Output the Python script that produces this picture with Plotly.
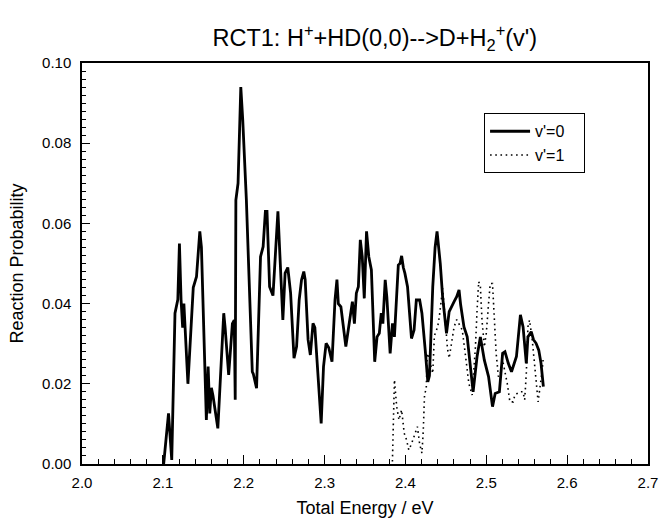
import plotly.graph_objects as go

# v'=0 (solid)
e_v0 = [2.101, 2.107, 2.111, 2.115, 2.1185, 2.1205, 2.1225, 2.1245, 2.126, 2.131,
        2.1376, 2.1416, 2.1457, 2.1477, 2.1538, 2.156, 2.158, 2.160, 2.162, 2.168,
        2.1753, 2.177, 2.1814, 2.186, 2.1883, 2.1895, 2.1903, 2.193, 2.1964, 2.1988,
        2.2033, 2.2106, 2.2118, 2.2159, 2.2208, 2.224, 2.2268, 2.2288, 2.232, 2.2362,
        2.2423, 2.245, 2.2484, 2.2512, 2.2545, 2.258, 2.2622, 2.2654, 2.2686, 2.2715,
        2.2743, 2.2760, 2.2796, 2.2824, 2.2857, 2.2880, 2.2918, 2.2958, 2.2987, 2.3019,
        2.3052, 2.3092, 2.3129, 2.3153, 2.3170, 2.3202, 2.3263, 2.3324, 2.3344, 2.3369,
        2.3393, 2.3418, 2.3442, 2.3466, 2.3491, 2.3519, 2.3547, 2.3579, 2.362, 2.3649,
        2.3677, 2.3701, 2.3721, 2.375, 2.3770, 2.3811, 2.384, 2.3864, 2.3912, 2.3933,
        2.3953, 2.3974, 2.3993, 2.4026, 2.4075, 2.4107, 2.4135, 2.4176, 2.4204, 2.4245,
        2.4277, 2.4297, 2.4338, 2.4367, 2.4391, 2.4431, 2.446, 2.4508, 2.4541, 2.4602,
        2.4634, 2.4663, 2.4683, 2.4724, 2.4764, 2.4837, 2.4886, 2.4927, 2.4976, 2.5028,
        2.5077, 2.511, 2.5162, 2.5202, 2.5231, 2.5272, 2.5312, 2.5373, 2.5422, 2.5455,
        2.5495, 2.5515, 2.5556, 2.5584, 2.5616, 2.5649, 2.5677, 2.5706]
p_v0 = [0.000, 0.0126, 0.001, 0.0376, 0.041, 0.055, 0.041, 0.034, 0.040, 0.020,
        0.044, 0.0467, 0.058, 0.054, 0.011, 0.0243, 0.0126, 0.019, 0.017, 0.0089,
        0.0376, 0.034, 0.0222, 0.035, 0.0359, 0.016, 0.0658, 0.070, 0.094, 0.0858,
        0.0658, 0.023, 0.0225, 0.0189, 0.0517, 0.0542, 0.063, 0.063, 0.0442, 0.042,
        0.063, 0.051, 0.0359, 0.0476, 0.049, 0.0426, 0.0264, 0.0293, 0.0409, 0.0459,
        0.048, 0.046, 0.031, 0.0272, 0.0351, 0.034, 0.021, 0.0101, 0.0243, 0.0301,
        0.029, 0.0255, 0.0409, 0.046, 0.040, 0.0392, 0.0293, 0.0384, 0.0405, 0.035,
        0.0426, 0.0442, 0.0559, 0.0517, 0.0413, 0.058, 0.0517, 0.0484, 0.0255, 0.0317,
        0.0326, 0.0376, 0.035, 0.0459, 0.0417, 0.0276, 0.0351, 0.0317, 0.0496, 0.050,
        0.0519, 0.049, 0.0476, 0.0442, 0.0313, 0.0334, 0.0409, 0.0409, 0.0376, 0.0284,
        0.0205, 0.022, 0.0442, 0.054, 0.058, 0.050, 0.0417, 0.0326, 0.038, 0.0405,
        0.0417, 0.0434, 0.0397, 0.0342, 0.0317, 0.018, 0.0268, 0.0317, 0.0259, 0.0218,
        0.0143, 0.0176, 0.018, 0.0276, 0.028, 0.0251, 0.023, 0.0268, 0.0372, 0.0342,
        0.0251, 0.0317, 0.033, 0.031, 0.0301, 0.0284, 0.0251, 0.0193]

# v'=1 (dotted)
e_v1 = [2.3839, 2.3852, 2.3864, 2.3892, 2.392, 2.3953, 2.3985, 2.4014, 2.4042, 2.4075,
        2.4115, 2.4148, 2.4176, 2.4204, 2.422, 2.4237, 2.4257, 2.427, 2.4298, 2.4338,
        2.4358, 2.4399, 2.4419, 2.446, 2.448, 2.45, 2.452, 2.4541, 2.4569, 2.4602,
        2.4634, 2.4703, 2.4743, 2.4784, 2.4825, 2.4866, 2.4886, 2.4906, 2.4927, 2.4947,
        2.4976, 2.5, 2.5028, 2.5049, 2.5077, 2.5101, 2.5122, 2.515, 2.518, 2.5202,
        2.5259, 2.5292, 2.5333, 2.5353, 2.5414, 2.5454, 2.5475, 2.5495, 2.5515, 2.5535,
        2.5568, 2.5596, 2.5625, 2.5641, 2.5665, 2.5690, 2.5706]
p_v1 = [0.0006, 0.0126, 0.021, 0.0143, 0.011, 0.0135, 0.0077, 0.006, 0.0035, 0.005,
        0.0077, 0.0093, 0.005, 0.0027, 0.008, 0.0176, 0.0185, 0.0276, 0.026, 0.0226,
        0.032, 0.0342, 0.0367, 0.0438, 0.039, 0.0342, 0.0288, 0.0264, 0.030, 0.0342,
        0.036, 0.0334, 0.027, 0.0201, 0.0172, 0.0293, 0.0384, 0.0455, 0.0442, 0.0359,
        0.0292, 0.0326, 0.040, 0.045, 0.045, 0.0359, 0.0276, 0.0218, 0.023, 0.0259,
        0.0201, 0.0155, 0.0155, 0.0172, 0.018, 0.018, 0.016, 0.0226, 0.0342, 0.0359,
        0.031, 0.0251, 0.0193, 0.0155, 0.0193, 0.023, 0.0268]

series_names = ["v'=0", "v'=1"]

FONT = "Liberation Sans, Arial, Helvetica, sans-serif"
PAD = "\u00a0\u00a0\u00a0"

fig = go.Figure()
fig.add_trace(go.Scatter(x=e_v0, y=p_v0, mode="lines", name=series_names[0] + PAD,
                         line=dict(color="black", width=2.8)))
fig.add_trace(go.Scatter(x=e_v1, y=p_v1, mode="lines", name=series_names[1] + PAD,
                         line=dict(color="black", width=1.6, dash="1.6px,3.6px")))

fig.update_layout(
    width=670, height=527,
    margin=dict(l=82, r=13, t=63, b=63),
    paper_bgcolor="white", plot_bgcolor="white",
    font=dict(family=FONT, color="black", size=15),
    title=dict(text="RCT1: H<sup>+</sup>+HD(0,0)--&gt;D+H<sub>2</sub><sup>+</sup>(v')",
               x=0.5 + 10 / 575, xref="paper", xanchor="center",
               y=1 - 38 / 527, yanchor="middle",
               font=dict(size=23.5, family=FONT, color="black")),
    showlegend=True,
    legend=dict(x=0.71, y=0.875, xanchor="left", yanchor="top",
                bordercolor="black", borderwidth=1.2, bgcolor="white",
                font=dict(size=16, family=FONT), tracegroupgap=0,
                itemwidth=40),
)
fig.update_xaxes(
    range=[2.0, 2.7], tickmode="linear", tick0=2.0, dtick=0.1, tickformat=".1f",
    ticks="inside", ticklen=9, tickwidth=1.3, tickcolor="black",
    minor=dict(tickmode="linear", tick0=2.0, dtick=0.02, ticks="inside", ticklen=5,
               tickcolor="black", tickwidth=1.3),
    showline=True, linecolor="black", linewidth=1.5, mirror=True,
    showgrid=False, zeroline=False, ticklabelstandoff=4,
    title=dict(text="Total Energy / eV", font=dict(size=18, family=FONT), standoff=12),
    tickfont=dict(size=15),
)
fig.update_yaxes(
    range=[0.0, 0.10], tickmode="linear", tick0=0.0, dtick=0.02, tickformat=".2f",
    ticks="inside", ticklen=8, tickwidth=1.3, tickcolor="black",
    minor=dict(tickmode="linear", tick0=0.0, dtick=0.002, ticks="inside", ticklen=4,
               tickcolor="black", tickwidth=1.3),
    showline=True, linecolor="black", linewidth=1.5, mirror=True,
    showgrid=False, zeroline=False, ticklabelstandoff=6,
    title=dict(text="Reaction Probability", font=dict(size=18, family=FONT), standoff=14),
    tickfont=dict(size=15),
)

fig.write_html("out.html")
